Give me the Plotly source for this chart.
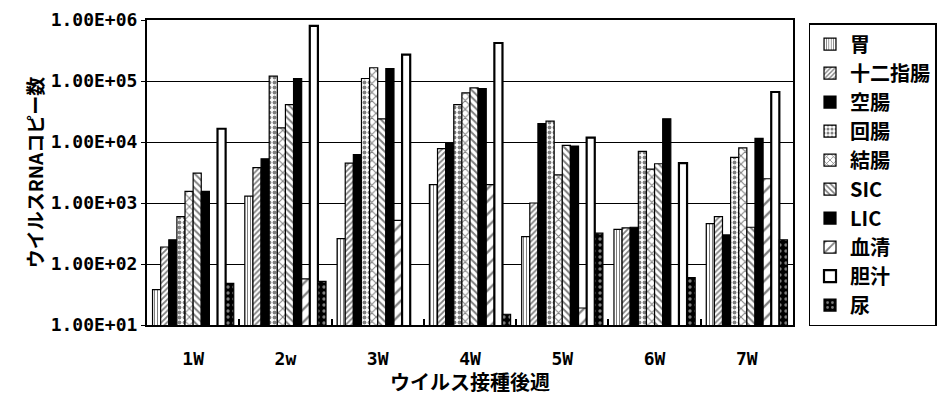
import plotly.graph_objects as go

# Weeks after virus inoculation
weeks = ["1W", "2w", "3W", "4W", "5W", "6W", "7W"]

# Viral RNA copy numbers per tissue (None = not detected)
stomach = [38, 1300, 260, 2000, 280, 370, 460]
duodenum = [190, 3800, 4500, 7800, 1000, 390, 600]
jejunum = [250, 5300, 6200, 9600, 20000, 400, 300]
ileum = [600, 120000, 110000, 41000, 22000, 7000, 5600]
colon = [1550, 17000, 165000, 64000, 2900, 3600, 8000]
sic = [3100, 41000, 24000, 77000, 8800, 4400, 400]
lic = [1550, 110000, 160000, 75000, 8600, 24000, 11500]
serum = [None, 57, 520, 2000, 19, None, 2500]
bile = [16500, 800000, 270000, 420000, 11800, 4500, 66000]
urine = [48, 52, None, 15, 320, 60, 250]

# Y axis decades and their labels
y_ticks = [10, 100, 1000, 10000, 100000, 1000000]
y_tick_text = ["1.00E+01", "1.00E+02", "1.00E+03", "1.00E+04", "1.00E+05", "1.00E+06"]

series = [
    ("胃", stomach, dict(shape="|", size=3, solidity=0.35, fgcolor="black", bgcolor="white"), 1.2),
    ("十二指腸", duodenum, dict(shape="/", size=4, solidity=0.45, fgcolor="black", bgcolor="white"), 1.2),
    ("空腸", jejunum, dict(shape="", fgcolor="black", bgcolor="black"), 1.2),
    ("回腸", ileum, dict(shape=".", size=5, solidity=0.45, fgcolor="black", bgcolor="white"), 1.2),
    ("結腸", colon, dict(shape="x", size=6, solidity=0.3, fgcolor="black", bgcolor="white"), 1.2),
    ("SIC", sic, dict(shape="\\", size=5, solidity=0.4, fgcolor="black", bgcolor="white"), 1.2),
    ("LIC", lic, dict(shape="", fgcolor="black", bgcolor="black"), 1.2),
    ("血清", serum, dict(shape="/", size=9, solidity=0.25, fgcolor="black", bgcolor="white"), 1.2),
    ("胆汁", bile, dict(shape="", fgcolor="white", bgcolor="white"), 2.2),
    ("尿", urine, dict(shape=".", size=6, solidity=0.25, fgcolor="white", bgcolor="black"), 1.2),
]

fig = go.Figure()
for name, vals, pat, lw in series:
    fig.add_trace(go.Bar(
        name=name,
        x=weeks,
        y=vals,
        marker=dict(color=pat["bgcolor"], pattern=pat, line=dict(color="black", width=lw)),
    ))

mono = "DejaVu Sans Mono, Liberation Mono, monospace"
cjk = "Noto Sans CJK JP, Noto Sans, sans-serif"

fig.update_layout(
    width=949,
    height=396,
    margin=dict(l=147, r=139, t=20, b=71),
    paper_bgcolor="white",
    plot_bgcolor="white",
    barmode="group",
    bargap=0.12,
    bargroupgap=0,
    showlegend=True,
    legend=dict(
        x=1.024, y=0.99, xanchor="left", yanchor="top",
        bordercolor="black", borderwidth=1.5, bgcolor="white",
        font=dict(family=cjk, size=20, color="black", weight="bold"),
        itemwidth=30, tracegroupgap=0, maxheight=1,
    ),
    xaxis=dict(
        type="category",
        automargin=False,
        showline=True, linecolor="black", linewidth=2, mirror=True,
        ticks="inside", tickson="boundaries", ticklen=6, tickwidth=2, tickcolor="black",
        ticklabelstandoff=16,
        tickfont=dict(family=mono, size=18, color="black", weight="bold"),
        title=dict(text="ウイルス接種後週", font=dict(family=cjk, size=20, color="black", weight="bold"), standoff=12),
    ),
    yaxis=dict(
        type="log",
        automargin=False,
        range=[1, 6],
        tickvals=y_ticks,
        ticktext=y_tick_text,
        showgrid=True, gridcolor="black", gridwidth=1,
        showline=True, linecolor="black", linewidth=2, mirror=True,
        ticks="outside", ticklen=4, tickcolor="black",
        tickfont=dict(family=mono, size=18, color="black", weight="bold"),
        title=dict(text="ウイルスRNAコピー数", font=dict(family=cjk, size=19, color="black", weight="bold"), standoff=2),
    ),
)

fig.write_html("out.html")
